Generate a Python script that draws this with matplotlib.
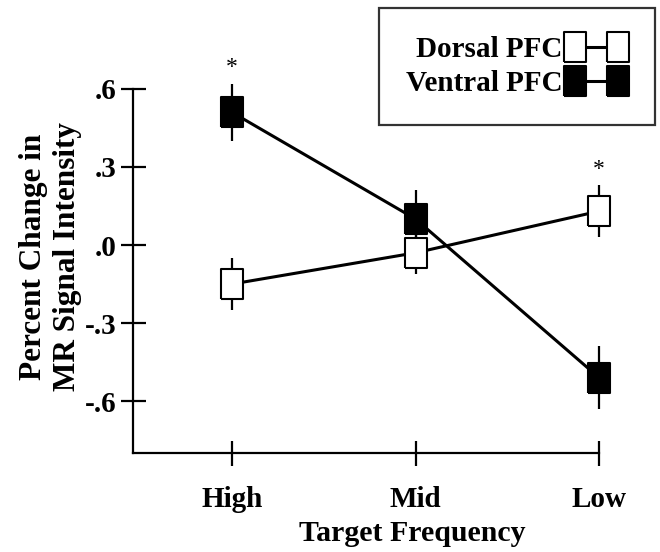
import matplotlib
matplotlib.use("Agg")
import matplotlib.pyplot as plt

plt.rcParams['font.family'] = ['Liberation Serif', 'DejaVu Serif']
plt.rcParams['font.weight'] = 'bold'
plt.rcParams['axes.labelweight'] = 'bold'

# data
categories = ["High", "Mid", "Low"]
x_pos = [0, 1, 2]
dorsal_vals = [-0.15, -0.03, 0.13]
dorsal_err = [0.10, 0.08, 0.10]
ventral_vals = [0.51, 0.10, -0.51]
ventral_err = [0.11, 0.11, 0.12]
ytick_vals = [0.6, 0.3, 0.0, -0.3, -0.6]
ytick_labels = [".6", ".3", ".0", "-.3", "-.6"]

# tall rectangle marker like the original
rect = [(-0.38, -0.5), (0.38, -0.5), (0.38, 0.5), (-0.38, 0.5), (-0.38, -0.5)]

fig = plt.figure(figsize=(6.6, 5.52), dpi=100)
ax = fig.add_axes([0.2015, 0.1793, 0.7061, 0.6595])

# error bars first so the markers sit on top
ax.errorbar(x_pos, dorsal_vals, yerr=dorsal_err, fmt='none', ecolor='black',
            elinewidth=1.6, capsize=0, zorder=2, clip_on=False)
ax.errorbar(x_pos, ventral_vals, yerr=ventral_err, fmt='none', ecolor='black',
            elinewidth=1.6, capsize=0, zorder=2, clip_on=False)

ax.plot(x_pos, ventral_vals, color='black', lw=2.2, marker=rect, ms=21.5,
        mfc='black', mec='black', mew=1.5, zorder=3, clip_on=False,
        label="Ventral PFC")
ax.plot(x_pos, dorsal_vals, color='black', lw=2.2, marker=rect, ms=21,
        mfc='white', mec='black', mew=1.5, zorder=4, clip_on=False,
        label="Dorsal PFC")

# significance stars
ax.annotate("*", (x_pos[0], ventral_vals[0] + ventral_err[0]), xytext=(0, 4),
            textcoords='offset points', ha='center', va='bottom',
            fontsize=17, fontweight='normal', annotation_clip=False)
ax.annotate("*", (x_pos[2], dorsal_vals[2] + dorsal_err[2]), xytext=(0, 4),
            textcoords='offset points', ha='center', va='bottom',
            fontsize=17, fontweight='normal', annotation_clip=False)

ax.set_xlim(-0.54, 2)
ax.set_ylim(-0.8, 0.6)
ax.set_xticks(x_pos)
ax.set_xticklabels(categories)
ax.set_yticks(ytick_vals)
ax.set_yticklabels(ytick_labels)

for s in ['top', 'right']:
    ax.spines[s].set_visible(False)
for s in ['left', 'bottom']:
    ax.spines[s].set_linewidth(1.6)

ax.tick_params(axis='both', direction='inout', length=18, width=1.6,
               labelsize=21)
ax.tick_params(axis='x', pad=15)
ax.tick_params(axis='y', pad=3)

ax.set_xlabel("Target Frequency", fontsize=21.5)
ax.xaxis.set_label_coords(0.599, -0.183)
ax.set_ylabel("Percent Change in\nMR Signal Intensity", fontsize=22.5,
              linespacing=1.2, ha='center')
ax.yaxis.set_label_coords(-0.11, 0.54)

handles, labels = ax.get_legend_handles_labels()
leg = fig.legend(handles[::-1], labels[::-1], loc='upper right',
                 bbox_to_anchor=(0.992, 0.9855), markerfirst=False,
                 numpoints=2, handlelength=2.1, handletextpad=0.1,
                 fontsize=21, frameon=True, fancybox=False,
                 borderpad=0.95, labelspacing=0.25, borderaxespad=0)
leg.get_frame().set_edgecolor('black')
leg.get_frame().set_linewidth(1.6)

fig.savefig("out.png", dpi=100)
